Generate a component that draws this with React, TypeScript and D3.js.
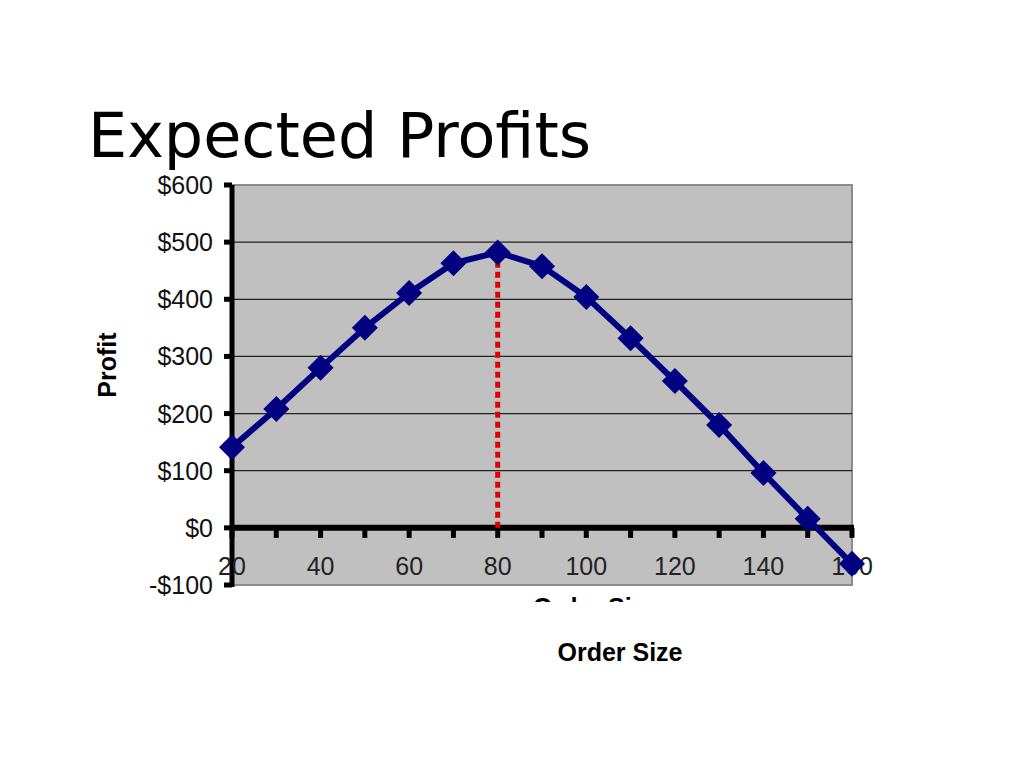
import React from "react";
import * as d3 from "d3";

const orderSizes = [20, 30, 40, 50, 60, 70, 80, 90, 100, 110, 120, 130, 140, 150, 160];
const profits = [141, 208, 280, 350, 411, 463, 482, 458, 404, 332, 257, 180, 96, 16, -63];
const yTicks = [-100, 0, 100, 200, 300, 400, 500, 600];
const xTickLabels = [20, 40, 60, 80, 100, 120, 140, 160];
const xMinorTicks = [20, 30, 40, 50, 60, 70, 80, 90, 100, 110, 120, 130, 140, 150, 160];
const optimalOrder = 80;
const optimalProfit = 482;

export default function App() {
  const W = 1024, H = 768;
  const left = 232, right = 852, top = 185, bottom = 585;
  const x = d3.scaleLinear().domain([20, 160]).range([left, right]);
  const y = d3.scaleLinear().domain([-100, 600]).range([bottom, top]);
  const line = d3.line<number>().x((_, i) => x(orderSizes[i])).y((d) => y(d));
  const diamond = (cx: number, cy: number, r: number) =>
    `M${cx},${cy - r}L${cx + r},${cy}L${cx},${cy + r}L${cx - r},${cy}Z`;
  const fmt = (v: number) => (v < 0 ? `-$${Math.abs(v)}` : `$${v}`);
  const sans = "Liberation Sans, Arial, sans-serif";

  return (
    <svg width={W} height={H} style={{ position: "absolute", left: 0, top: 0 }}>
      <rect x={0} y={0} width={W} height={H} fill="#ffffff" />
      <text x={88} y={157} fontFamily="DejaVu Sans, sans-serif" fontSize={62} fill="#000">
        Expected Profits
      </text>
      <defs>
        <clipPath id="clipBelow">
          <rect x={0} y={0} width={W} height={602} />
        </clipPath>
      </defs>
      {/* plot area */}
      <rect x={left} y={top} width={right - left} height={bottom - top} fill="#c0c0c0" stroke="#8c8c8c" strokeWidth={2} />
      {yTicks.filter((t) => t > -100 && t < 600 && t !== 0).map((t) => (
        <line key={t} x1={left} x2={right} y1={y(t)} y2={y(t)} stroke="#222" strokeWidth={1.2} />
      ))}
      {/* y axis */}
      <line x1={left} x2={left} y1={top} y2={bottom + 2} stroke="#000" strokeWidth={5} />
      {yTicks.map((t) => (
        <line key={t} x1={left - 8} x2={left} y1={y(t)} y2={y(t)} stroke="#000" strokeWidth={5} />
      ))}
      {yTicks.map((t) => (
        <text key={t} x={left - 19} y={y(t) + 9} textAnchor="end" fontFamily={sans} fontSize={25} fill="#111">
          {fmt(t)}
        </text>
      ))}
      {/* x axis at zero */}
      <line x1={left} x2={right + 2} y1={y(0)} y2={y(0)} stroke="#000" strokeWidth={6} />
      {xMinorTicks.map((t) => (
        <line key={t} x1={x(t)} x2={x(t)} y1={y(0)} y2={y(0) + 10} stroke="#000" strokeWidth={5} />
      ))}
      {xTickLabels.map((t) => (
        <text key={t} x={x(t)} y={y(0) + 47} textAnchor="middle" fontFamily={sans} fontSize={25} fill="#222">
          {t}
        </text>
      ))}
      {/* red dotted optimal line */}
      <line x1={x(optimalOrder)} x2={x(optimalOrder)} y1={y(0)} y2={y(optimalProfit)} stroke="#dd0000" strokeWidth={5} strokeDasharray="6,4" />
      {/* series */}
      <path d={line(profits) || ""} fill="none" stroke="#000080" strokeWidth={6} strokeLinejoin="round" />
      {profits.map((p, i) => (
        <path key={i} d={diamond(x(orderSizes[i]), y(p), 13)} fill="#000080" />
      ))}
      {/* clipped excel axis title */}
      <text x={533} y={616} textAnchor="start" fontFamily={sans} fontWeight="bold" fontSize={25} fill="#000" clipPath="url(#clipBelow)">
        Order Size
      </text>
      <text x={620} y={661} textAnchor="middle" fontFamily={sans} fontWeight="bold" fontSize={25} fill="#000">
        Order Size
      </text>
      <text transform={`translate(116,365) rotate(-90)`} textAnchor="middle" fontFamily={sans} fontWeight="bold" fontSize={25} fill="#000">
        Profit
      </text>
    </svg>
  );
}
